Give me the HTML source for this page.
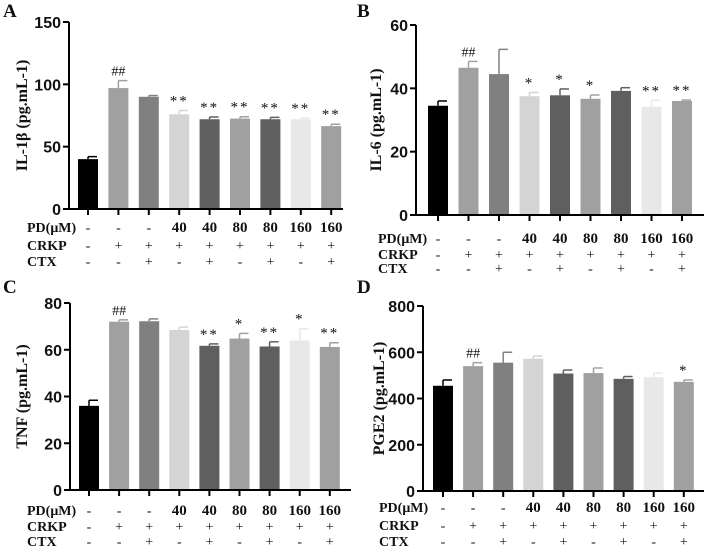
<!DOCTYPE html>
<html><head><meta charset="utf-8"><style>
body{margin:0;background:#fff;}
svg{display:block;}
.t{font-family:"Liberation Sans",sans-serif;font-weight:bold;font-size:16px;fill:#111;}
.s{font-family:"Liberation Serif",serif;font-weight:bold;fill:#111;}
.n{font-family:"Liberation Serif",serif;fill:#111;}
</style></head><body>
<svg id="c" width="708" height="548" viewBox="0 0 708 548"></svg>
<script>
const colors=["#000","#a0a0a0","#808080","#d4d4d4","#5f5f5f","#a0a0a0","#5f5f5f","#e8e8e8","#a0a0a0"];
const pdLabels=["-","-","-","40","40","80","80","160","160"];
const crkpLabels=["-","+","+","+","+","+","+","+","+"];
const ctxLabels=["-","-","+","-","+","-","+","-","+"];
const valuesA=[40,97,90,76,72,72.5,72,72,66.5];
const errorsA=[2,6,1,3,1.8,1.5,1.5,1,1.5];
const marksA=["","##","","**","**","**","**","**","**"];
const ticksA=[0,50,100,150];
const valuesB=[34.5,46.5,44.5,37.5,37.8,36.7,39.2,34.2,36];
const errorsB=[1.5,2,7.8,1.2,2,1.2,1,2,0.3];
const marksB=["","##","","*","*","*","","**","**"];
const ticksB=[0,20,40,60];
const valuesC=[36,72,72.2,68.5,61.7,64.8,61.4,64,61.2];
const errorsC=[2.4,0.8,1,1.2,0.8,2.2,2,5,1.8];
const marksC=["","##","","","**","*","**","*","**"];
const ticksC=[0,20,40,60,80];
const valuesD=[455,540,555,572,508,510,485,492,472];
const errorsD=[25,15,45,12,15,22,10,18,8];
const marksD=["","##","","","","","","","*"];
const ticksD=[0,200,400,600,800];
const svg=document.getElementById('c');
const NS="http://www.w3.org/2000/svg";
function mk(tag,attrs,parent){const e=document.createElementNS(NS,tag);for(const k in attrs)e.setAttribute(k,attrs[k]);(parent||svg).appendChild(e);return e;}
function txt(str,attrs,parent){const e=mk('text',attrs,parent);e.textContent=str;return e;}
const panels=[
 {id:'a',letter:'A',lx:3,ly:17,ax:69,yTop:22,yBot:209,x0:88,dx:30.4,xEnd:343,rows:[232,250,266],labX:27,title:'IL-1β (pg.mL-1)',tx:21,vals:valuesA,errs:errorsA,marks:marksA,ticks:ticksA},
 {id:'b',letter:'B',lx:357,ly:17,ax:416,yTop:25,yBot:215,x0:438,dx:30.5,xEnd:704,rows:[243,259,273],labX:378,title:'IL-6 (pg.mL-1)',tx:375,vals:valuesB,errs:errorsB,marks:marksB,ticks:ticksB},
 {id:'c',letter:'C',lx:3,ly:293,ax:70,yTop:303,yBot:490,x0:89,dx:30.1,xEnd:351,rows:[515,531,546],labX:27,title:'TNF (pg.mL-1)',tx:21,vals:valuesC,errs:errorsC,marks:marksC,ticks:ticksC},
 {id:'d',letter:'D',lx:357,ly:293,ax:423,yTop:306,yBot:491,x0:443,dx:30.1,xEnd:704,rows:[512,530,546],labX:379,title:'PGE2 (pg.mL-1)',tx:378,vals:valuesD,errs:errorsD,marks:marksD,ticks:ticksD}
];
panels.forEach(p=>{
 const g=mk('g',{});
 
 
 const max=p.ticks[p.ticks.length-1];
 const y=v=>p.yBot-(v/max)*(p.yBot-p.yTop);
 const x=i=>p.x0+i*p.dx;
 const L=txt(p.letter,{x:p.lx,y:p.ly,class:'s','font-size':19},g);
 
 
 const T=txt(p.title,{x:0,y:0,class:'s','font-size':16,'text-anchor':'middle',transform:`translate(${p.tx+6},${(p.yTop+p.yBot)/2}) rotate(-90)`},g);
 
 
 p.vals.forEach((v,i)=>{
  const cx=x(i),top=y(v),e=p.errs[i];
  const col=colors[i];
  const ec=i===0?'#000':col;
  const ey=y(v+e);
  const l=mk('line',{x1:cx,x2:cx,y1:top,y2:ey,stroke:ec,'stroke-width':1.5},g);
  
  
  const c=mk('line',{x1:cx,x2:cx+9,y1:ey,y2:ey,stroke:ec,'stroke-width':1.5},g);
  
  
  const r=mk('rect',{x:cx-10,y:top,width:20,height:p.yBot-top,fill:col},g);
  
  
  if(p.marks[i]){
   const m=txt(p.marks[i],{x:cx,y:ey-5,'text-anchor':'middle',class:'n','font-size':p.marks[i][0]=='#'?14:15,fill:'#333','letter-spacing':p.marks[i][0]=='*'?2:0},g);
   
   
  }
  const tk=mk('line',{x1:cx,x2:cx,y1:p.yBot,y2:p.yBot+6,stroke:'#000','stroke-width':2},g);
  
  
  [pdLabels,crkpLabels,ctxLabels].forEach((arr,k)=>{
   const big=arr[i].length>1;
   const t=txt(arr[i],{x:cx,y:p.rows[k],'text-anchor':'middle',class:big?'s':'n','font-size':big?15:14},g);
   
   
  });
 });
 ['PD(μM)','CRKP','CTX'].forEach((s,k)=>{
  const t=txt(s,{x:p.labX,y:p.rows[k],class:'s','font-size':14},g);
  
  
 });
 const ya=mk('line',{x1:p.ax,x2:p.ax,y1:p.yTop,y2:p.yBot+1,stroke:'#000','stroke-width':2},g);
 
 
 const xa=mk('line',{x1:p.ax-1,x2:p.xEnd,y1:p.yBot,y2:p.yBot,stroke:'#000','stroke-width':2},g);
 
 
 p.ticks.forEach(tv=>{
  const ty=y(tv);
  const tl=mk('line',{x1:p.ax-6,x2:p.ax,y1:ty,y2:ty,stroke:'#000','stroke-width':2},g);
  
  
  const tt=txt(String(tv),{x:p.ax-8,y:ty+6,'text-anchor':'end',class:'t'},g);
  
  
 });
});
</script>
</body></html>
